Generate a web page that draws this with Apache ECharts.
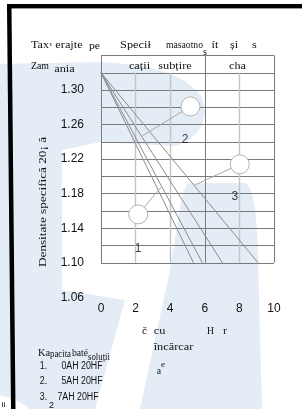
<!DOCTYPE html>
<html lang="ro">
<head>
<meta charset="UTF-8">
<title>Densitate specifica</title>
<script src="https://cdn.jsdelivr.net/npm/echarts@6/dist/echarts.min.js"></script>
<style>
  html, body { margin: 0; padding: 0; background: #fff; }
  #main { width: 302px; height: 409px; }
</style>
</head>
<body>
<div id="main"></div>
<script>
// ---- data ----
// every curve starts in the top-left corner (0 h, 1.32) and runs down to 1.10
const curveStart = [0, 1.32];
const curveEndDensity = 1.10;
const curveEndHours = [5.35, 5.86, 7.02, 9.08];

// numbered circles (callouts) and where their leader touches a curve
const circleHours = [2.15, 5.17, 8.02];
const circleDensity = [1.156, 1.281, 1.214];
const leaderHours = [3.53, 2.39, 5.42];
const leaderDensity = [1.189, 1.247, 1.19];
const curveLabels = ['1', '2', '3'];
const labelHours = [2.14, 4.86, 7.73];
const labelDensity = [1.116, 1.243, 1.177];

// table rulings
const rowLevels = [1.10, 1.12, 1.14, 1.16, 1.18, 1.20, 1.22, 1.24, 1.26, 1.28, 1.30, 1.32, 1.34];
const thinCols = [2, 4, 8];
const headCols = [0, 6, 10];

// tick labels
const yTicks = ['1.06', '1.10', '1.14', '1.18', '1.22', '1.26', '1.30'];
const xTicks = ['0', '2', '4', '6', '8', '10'];

// legend list
const listNums = ['1.', '2.', '3.'];
const listText = ['0AH 20HF', '5AH 20HF', '7AH 20HF'];

const serif = '"Liberation Serif", "DejaVu Serif", serif';
const sans = '"Liberation Sans", Arial, sans-serif';
const wm = '#e4ecf6';

let myChart = echarts.init(document.getElementById('main'));

// ruling segments
const hSegs = rowLevels.map(v => ({ coords: [[0, v], [10, v]] }));
const vDark = headCols.map(x => ({ coords: [[x, 1.10], [x, 1.34]] }));
const vThin = thinCols.map(x => ({ coords: [[x, 1.10], [x, 1.32]] }));

const curveSeries = curveEndHours.map(h => ({
  type: 'line',
  data: [curveStart, [h, curveEndDensity]],
  symbol: 'none',
  lineStyle: { color: '#8c8c8c', width: 1 },
  silent: true,
  z: 3
}));

const leaderSeries = circleHours.map((h, i) => ({
  type: 'line',
  data: [[leaderHours[i], leaderDensity[i]], [h, circleDensity[i]]],
  symbol: 'none',
  lineStyle: { color: '#a8a8a8', width: 1 },
  silent: true,
  z: 3
}));

// the scan squeezes/spreads its words; each piece is centred on the span it
// covers and only mildly stretched so the letters keep their shape
const measure = document.createElement('canvas').getContext('2d');
const texts = [];
function fit(s, x0, x1, y, font) {
  measure.font = font;
  const w = measure.measureText(s).width || 1;
  const k = Math.min(1.12, Math.max(0.88, (x1 - x0) / w));
  texts.push({
    type: 'text', z: 10, silent: true, x: (x0 + x1) / 2 - (w * k) / 2, y: y, scaleX: k,
    style: { text: s, x: 0, y: 0, font: font, fill: '#111', verticalAlign: 'middle' }
  });
}
const f11 = '11px ' + serif;
const f10 = '10px ' + serif;

// header (garbled in the original)
fit('Tax', 31, 49, 45, f11);
fit('\u025b', 49.5, 52, 44, '7px ' + serif);
fit('erajte', 53, 85, 45, f11);
fit('pe', 89, 100, 46, f11);
fit('Speci\u0142', 119, 152, 45, f11);
fit('masaotno', 166, 203, 45, f11);
fit('s', 203, 207, 52, f10);
fit('\u00edt', 210, 220, 45, f11);
fit('\u0219i', 228, 240, 45, f11);
fit('s', 252, 257, 45, f11);
fit('Zam', 31, 49, 66, f11);
fit('ania', 53, 76, 69, f11);
fit('ca\u021bii', 126, 153, 66, f11);
fit('sub\u021bire', 157, 193, 66, f11);
fit('cha', 229, 246, 66, f11);

// axis title, reading upwards
(function () {
  const s = 'Densitate specific\u0103 20\u00a1 \u0103';
  measure.font = f11;
  const w = measure.measureText(s).width;
  texts.push({
    type: 'text', z: 10, silent: true, x: 43, y: 202, rotation: Math.PI / 2,
    scaleX: 130 / w,
    style: { text: s, x: 0, y: 0, font: f11, fill: '#111', align: 'center', verticalAlign: 'middle' }
  });
})();

// x axis caption pieces
fit('\u010d', 142, 147, 331, f11);
fit('cu', 153, 166, 331, f11);
fit('H', 207, 214, 331, f11);
fit('r', 223, 227, 331, f11);
fit('\u00eenc\u0103rcar', 153, 194, 347, f11);
fit('Ka', 38, 50, 353, f11);
fit('pacita', 50, 71, 354, f10);
fit('bat\u00e9', 72, 88, 353, f10);
fit('solu\u021bii', 88, 110, 357, f10);
fit('a', 157, 161, 371, f11);
fit('e', 161, 165, 365, '9px ' + serif);

// numbered list
listNums.forEach((n, i) => {
  const y = 366 + i * 15.5;
  fit(n, 40, 47, y, '10px ' + sans);
  fit(listText[i], i === 2 ? 58 : 62, i === 2 ? 98 : 102, y, '10px ' + sans);
});
fit('2', 49, 54, 406, '9px ' + sans);
fit('ii', 1, 6, 405, '8px ' + sans);

// watermark outline helper: straight points and cubic segments -> polygon points
function outline(start, segs) {
  const pts = [start];
  let p = start;
  segs.forEach(s => {
    if (s.length === 1) { pts.push(s[0]); p = s[0]; return; }
    const [c1, c2, e] = s;
    for (let t = 1; t <= 12; t++) {
      const u = t / 12, v = 1 - u;
      pts.push([
        v * v * v * p[0] + 3 * v * v * u * c1[0] + 3 * v * u * u * c2[0] + u * u * u * e[0],
        v * v * v * p[1] + 3 * v * v * u * c1[1] + 3 * v * u * u * c2[1] + u * u * u * e[1]
      ]);
    }
    p = e;
  });
  return pts;
}
function blob(points) {
  return { type: 'polygon', z: -10, silent: true, shape: { points: points }, style: { fill: wm } };
}

const deco = [
  // stem + thick top of the bowl
  blob(outline([0, 64], [
    [[100, 62]],
    [[150, 64], [185, 74], [200, 95]],
    [[212, 115], [200, 140], [175, 146]],
    [[100, 142]],
    [[62, 150]],
    [[62, 290]],
    [[125, 300]],
    [[95, 409]],
    [[30, 409]],
    [[18, 400], [8, 396], [0, 396]]
  ])),
  // right-hand stroke
  blob(outline([190, 183], [
    [[244, 183]],
    [[252, 183], [257, 205], [258, 260]],
    [[262, 409]],
    [[140, 409]],
    [[170, 270]],
    [[180, 210], [182, 183], [190, 183]]
  ])),
  { type: 'rect', z: 20, silent: true, shape: { x: 7, y: 4, width: 295, height: 4 }, style: { fill: '#000' } },
  { type: 'rect', z: 20, silent: true, shape: { x: 7, y: 8, width: 295, height: 1 }, style: { fill: '#999' } },
  { type: 'polygon', z: 20, silent: true,
    shape: { points: [[7, 8], [11.5, 8], [15.5, 409], [11, 409]] }, style: { fill: '#000' } }
];

let options = {
  animation: false,
  backgroundColor: '#fff',
  grid: { left: 101, top: 55.5, width: 173, height: 241.8 },
  xAxis: {
    type: 'value', min: 0, max: 10, interval: 2,
    axisLine: { show: false }, axisTick: { show: false }, splitLine: { show: false },
    axisLabel: { margin: 5, fontSize: 12, fontFamily: sans, color: '#111',
      formatter: v => xTicks.includes(String(Math.round(v))) ? String(Math.round(v)) : '' }
  },
  yAxis: {
    type: 'value', min: 1.06, max: 1.34, interval: 0.04,
    axisLine: { show: false }, axisTick: { show: false }, splitLine: { show: false },
    axisLabel: { margin: 17, fontSize: 12, fontFamily: sans, color: '#111',
      formatter: v => yTicks.includes(v.toFixed(2)) ? v.toFixed(2) : '' }
  },
  graphic: deco.concat(texts),
  series: [
    { type: 'lines', coordinateSystem: 'cartesian2d', polyline: false, silent: true, z: 2,
      lineStyle: { color: '#7a7a7a', width: 1, opacity: 1 }, data: hSegs.concat(vDark) },
    { type: 'lines', coordinateSystem: 'cartesian2d', polyline: false, silent: true, z: 2,
      lineStyle: { color: '#c4c4c4', width: 1.4, opacity: 1 }, data: vThin },
    ...curveSeries,
    ...leaderSeries,
    { type: 'scatter', silent: true, z: 5,
      data: circleHours.map((h, i) => [h, circleDensity[i]]),
      symbolSize: 19,
      itemStyle: { color: '#fff', borderColor: '#b4b4b4', borderWidth: 1, opacity: 1 } },
    { type: 'scatter', silent: true, z: 6, symbolSize: 0,
      data: labelHours.map((h, i) => ({ value: [h, labelDensity[i]], name: curveLabels[i] })),
      label: { show: true, position: 'inside', formatter: p => p.name,
        fontSize: 12, fontFamily: sans, color: '#111' } }
  ]
};

myChart.setOption(options);
</script>
</body>
</html>
